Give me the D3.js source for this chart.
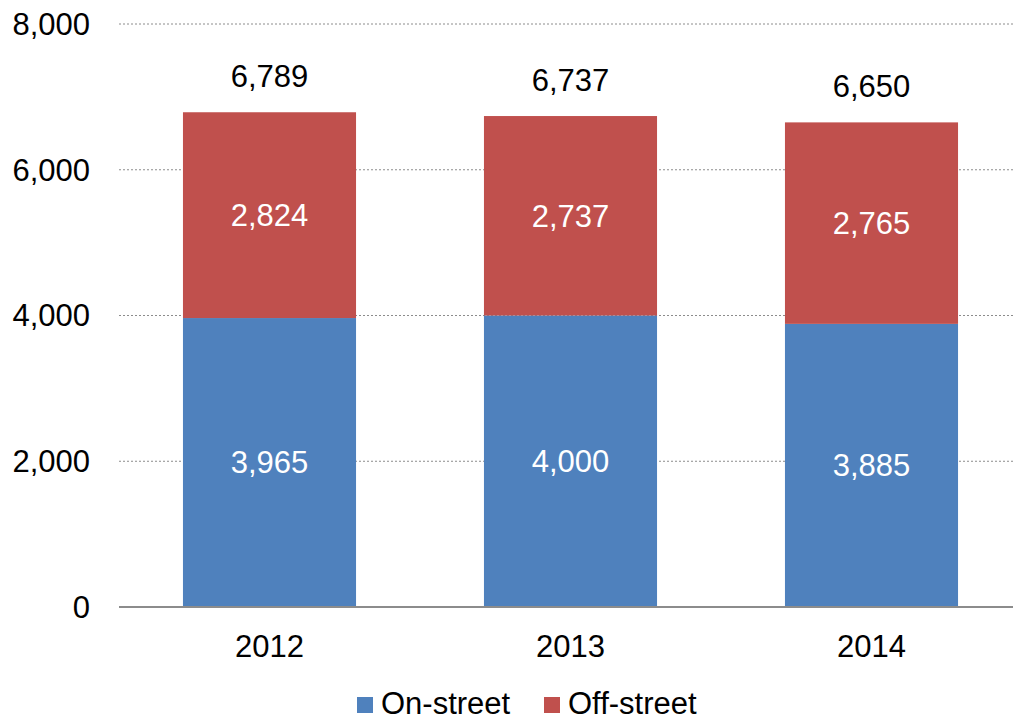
<!DOCTYPE html>
<html><head><meta charset="utf-8">
<script src="https://cdn.jsdelivr.net/npm/d3@7"></script>
<style>body{margin:0;background:#fff}svg{display:block;font-family:"Liberation Sans",Arial,sans-serif}</style>
</head><body>
<svg id="c" width="1013" height="721"></svg>
<script>
const years = ["2012","2013","2014"];
const onStreet = [3965, 4000, 3885];
const offStreet = [2824, 2737, 2765];
const totals = [6789, 6737, 6650];
const yTicks = [0, 2000, 4000, 6000, 8000];
const seriesNames = ["On-street","Off-street"];
const colors = ["#4F81BD","#C0504D"];

const svg = d3.select("#c");
const fmt = d3.format(",");
const x = d3.scaleBand().domain(years).range([119, 1022]).paddingInner(0.425).paddingOuter(0.2125);
const y = d3.scaleLinear().domain([0, 8000]).range([607, 24]);
const fs = 31;

// gridlines
svg.append("g").selectAll("line").data(yTicks.slice(1)).join("line")
  .attr("x1", 119).attr("x2", 1013)
  .attr("y1", d => y(d)).attr("y2", d => y(d))
  .attr("stroke", "#8c8c8c").attr("stroke-width", 1).attr("stroke-dasharray", "2,2");

// y labels
svg.append("g").selectAll("text").data(yTicks).join("text")
  .attr("x", 90).attr("y", d => y(d)).attr("dy", "0.35em")
  .attr("text-anchor", "end").attr("font-size", fs).attr("fill", "#000")
  .text(d => fmt(d));

const data = years.map((yr, i) => ({year: yr, on: onStreet[i], off: offStreet[i], total: totals[i]}));
const stack = d3.stack().keys(["on","off"])(data);

svg.append("g").selectAll("g").data(stack).join("g")
  .attr("fill", (d, i) => colors[i])
  .selectAll("rect").data(d => d).join("rect")
  .attr("x", d => x(d.data.year)).attr("width", x.bandwidth())
  .attr("y", d => y(d[1])).attr("height", d => y(d[0]) - y(d[1]));

// segment labels
svg.append("g").selectAll("g").data(stack).join("g")
  .selectAll("text").data(d => d).join("text")
  .attr("x", d => x(d.data.year) + x.bandwidth()/2)
  .attr("y", d => (y(d[0]) + y(d[1]))/2).attr("dy", "0.35em")
  .attr("text-anchor", "middle").attr("font-size", fs).attr("fill", "#fff")
  .text(d => fmt(d[1] - d[0]));

// totals
svg.append("g").selectAll("text").data(data).join("text")
  .attr("x", d => x(d.year) + x.bandwidth()/2)
  .attr("y", d => y(d.total) - 25)
  .attr("text-anchor", "middle").attr("font-size", fs).attr("fill", "#000")
  .text(d => fmt(d.total));

// axis line
svg.append("line").attr("x1", 119).attr("x2", 1013).attr("y1", y(0)).attr("y2", y(0))
  .attr("stroke", "#8c8c8c").attr("stroke-width", 2);

// x labels
svg.append("g").selectAll("text").data(years).join("text")
  .attr("x", d => x(d) + x.bandwidth()/2).attr("y", 657)
  .attr("text-anchor", "middle").attr("font-size", fs).attr("fill", "#000")
  .text(d => d);

// legend
const legX = [357, 544];
const leg = svg.append("g").selectAll("g").data(seriesNames).join("g")
  .attr("transform", (d, i) => `translate(${legX[i]},0)`);
leg.append("rect").attr("x", 0).attr("y", 697).attr("width", 16).attr("height", 16)
  .attr("fill", (d, i) => colors[i]);
leg.append("text").attr("x", 24).attr("y", 714).attr("font-size", fs).attr("fill", "#000")
  .text(d => d);
</script>
</body></html>
